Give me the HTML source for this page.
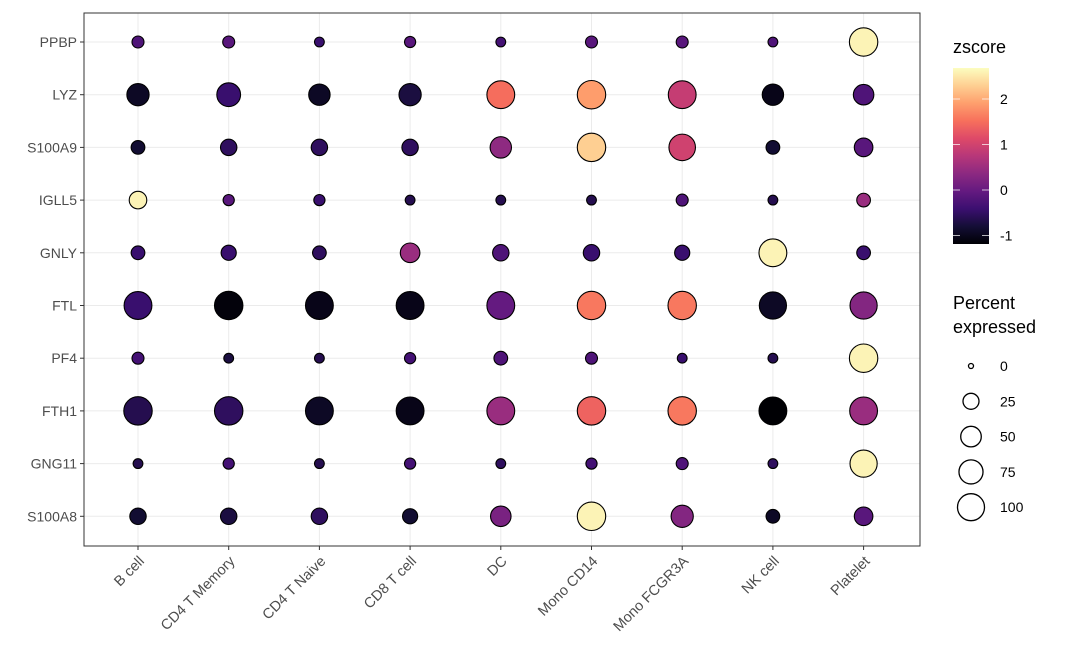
<!DOCTYPE html>
<html><head><meta charset="utf-8"><style>
body{margin:0;background:#fff;}
svg{display:block;font-family:"Liberation Sans",sans-serif;}
</style></head><body>
<svg id="c" width="1080" height="667" xmlns="http://www.w3.org/2000/svg">
<defs><linearGradient id="mg" x1="0" y1="1" x2="0" y2="0">
<stop offset="0" stop-color="#000004"/><stop offset="0.1" stop-color="#140e36"/><stop offset="0.2" stop-color="#3b0f70"/><stop offset="0.3" stop-color="#641a80"/><stop offset="0.4" stop-color="#8c2981"/><stop offset="0.5" stop-color="#b73779"/><stop offset="0.6" stop-color="#de4968"/><stop offset="0.7" stop-color="#f7705c"/><stop offset="0.8" stop-color="#fe9f6d"/><stop offset="0.9" stop-color="#fecf92"/><stop offset="1" stop-color="#fcfdbf"/>
</linearGradient></defs>
</svg>
<script>
const cells=["B cell","CD4 T Memory","CD4 T Naive","CD8 T cell","DC","Mono CD14","Mono FCGR3A","NK cell","Platelet"];
const genes=["PPBP","LYZ","S100A9","IGLL5","GNLY","FTL","PF4","FTH1","GNG11","S100A8"];
const pct=[
[10,10,5,8,5,10,10,5,100],
[55,65,50,55,95,100,95,50,45],
[15,25,25,25,50,100,85,15,35],
[30,8,8,5,5,5,10,5,15],
[15,20,15,40,25,25,20,95,15],
[95,100,95,95,95,100,100,90,90],
[10,5,5,8,15,10,5,5,100],
[100,100,95,95,95,100,100,95,95],
[5,8,5,8,5,8,10,5,90],
[25,25,25,20,45,100,55,15,35]];
const zs=[
[-0.2,-0.1,-0.4,-0.1,-0.3,-0.1,-0.1,-0.2,2.6],
[-0.9,-0.4,-0.9,-0.7,1.5,1.9,0.9,-1.0,-0.2],
[-0.8,-0.5,-0.5,-0.5,0.4,2.3,1.0,-0.8,-0.1],
[2.6,-0.1,-0.4,-0.6,-0.6,-0.6,-0.2,-0.6,0.5],
[-0.4,-0.4,-0.5,0.5,-0.2,-0.4,-0.4,2.6,-0.4],
[-0.4,-1.1,-1.0,-1.0,0.0,1.6,1.6,-0.9,0.3],
[-0.3,-0.7,-0.6,-0.3,-0.2,-0.2,-0.4,-0.6,2.6],
[-0.6,-0.5,-0.9,-1.0,0.5,1.4,1.6,-1.2,0.5],
[-0.6,-0.3,-0.6,-0.3,-0.5,-0.3,-0.2,-0.5,2.6],
[-0.8,-0.7,-0.5,-0.8,0.2,2.6,0.3,-0.9,-0.1]];
const zTicks=[-1,0,1,2];
const pTicks=[0,25,50,75,100];
const ZMIN=-1.15,ZMAX=2.68;
const mag=["#000004","#140e36","#3b0f70","#641a80","#8c2981","#b73779","#de4968","#f7705c","#fe9f6d","#fecf92","#fcfdbf"];
function hx(c){return [1,3,5].map(i=>parseInt(c.substr(i,2),16));}
function color(z){let t=Math.max(0,Math.min(1,(z-ZMIN)/(ZMAX-ZMIN)))*10;let i=Math.min(9,Math.floor(t)),f=t-i;
const a=hx(mag[i]),b=hx(mag[i+1]);return "rgb("+a.map((v,k)=>Math.round(v+(b[k]-v)*f)).join(",")+")";}
const X=i=>138+i*90.7, Y=j=>42+j*52.7, R=p=>2.2+12*Math.sqrt(p/100);
const CY=z=>190-z*45.5;
const svg=document.getElementById('c');const NS="http://www.w3.org/2000/svg";
function el(t,a,txt){const e=document.createElementNS(NS,t);for(const k in a)e.setAttribute(k,a[k]);if(txt!=null)e.textContent=txt;svg.appendChild(e);return e;}
cells.forEach((c,i)=>{const e=el('line',{x1:X(i),x2:X(i),y1:13,y2:546,stroke:'#ebebeb','stroke-width':1});

});
genes.forEach((g,j)=>{const e=el('line',{x1:84,x2:920,y1:Y(j),y2:Y(j),stroke:'#ebebeb','stroke-width':1});

});
genes.forEach((g,j)=>cells.forEach((c,i)=>{const e=el('circle',{cx:X(i),cy:Y(j),r:R(pct[j][i]),fill:color(zs[j][i]),stroke:'#000','stroke-width':1.1});

}));
const pb=el('rect',{x:84,y:13,width:836,height:533,fill:'none',stroke:'#333','stroke-width':1});


genes.forEach((g,j)=>{el('line',{x1:80,x2:84,y1:Y(j),y2:Y(j),stroke:'#333'});
const t=el('text',{x:77,y:Y(j)+5,'text-anchor':'end','font-size':14,fill:'#4d4d4d'},g);

});
cells.forEach((c,i)=>{el('line',{x1:X(i),x2:X(i),y1:546,y2:550,stroke:'#333'});
const t=el('text',{x:X(i)+7,y:562,'text-anchor':'end','font-size':14.5,fill:'#4d4d4d',transform:`rotate(-45 ${X(i)+7} 562)`},c);

});
const lt=el('text',{x:953,y:53,'font-size':18,fill:'#000'},'zscore');


const cb=el('rect',{x:953,y:68,width:36,height:176,fill:'url(#mg)'});


zTicks.forEach(z=>{el('line',{x1:953,x2:960,y1:CY(z),y2:CY(z),stroke:'#fff','stroke-opacity':0.7});
el('line',{x1:982,x2:989,y1:CY(z),y2:CY(z),stroke:'#fff','stroke-opacity':0.7});
const t=el('text',{x:1000,y:CY(z)+5,'font-size':14,fill:'#000'},String(z));

});
const st=el('text',{x:953,y:309,'font-size':18,fill:'#000'},'Percent');


el('text',{x:953,y:333,'font-size':18,fill:'#000'},'expressed');
pTicks.forEach((p,k)=>{const y=366+k*35.3;
const c=el('circle',{cx:971,cy:y,r:3+11*Math.sqrt(p/100)-0.5,fill:'none',stroke:'#000','stroke-width':1.3});


const t=el('text',{x:1000,y:y+5,'font-size':14,fill:'#000'},String(p));

});
</script>
</body></html>
